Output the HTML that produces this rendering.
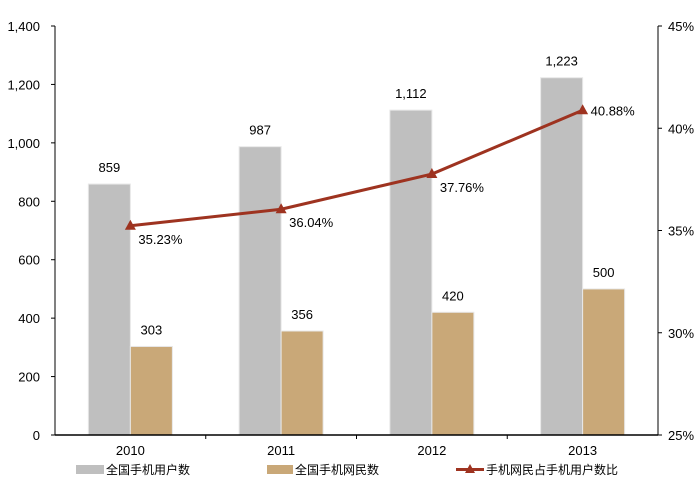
<!DOCTYPE html>
<html><head><meta charset="utf-8"><style>
body{margin:0;background:#fff;}
svg text{font-family:"Liberation Sans","Noto Sans CJK SC",sans-serif;fill:#000;}
</style></head><body>
<svg width="695" height="488" xmlns="http://www.w3.org/2000/svg">
<g id="bars"></g><g id="line"></g><g id="axes"></g><g id="legend">
<rect x="76" y="465" width="28" height="9" fill="#bfbfbf"/>
<text x="106" y="474" font-size="12">全国手机用户数</text>
<rect x="267" y="465" width="26" height="9" fill="#c9a878"/>
<text x="295" y="474" font-size="12">全国手机网民数</text>
<line x1="456" y1="469.5" x2="484" y2="469.5" stroke="#9e3320" stroke-width="3"/>
<path d="M470,464 L475,473 L465,473 Z" fill="#9e3320"/>
<text x="486" y="474" font-size="12">手机网民占手机用户数比</text>
</g></svg>
<script>
const categories=["2010","2011","2012","2013"];
const users=[859,987,1112,1223];
const netizens=[303,356,420,500];
const ratio=[35.23,36.04,37.76,40.88];
const leftTicks=[0,200,400,600,800,1000,1200,1400];
const rightTicks=[25,30,35,40,45];
const NS="http://www.w3.org/2000/svg";
const X0=55,X1=658,Y0=435,Y1=26;
const cw=(X1-X0)/categories.length;
const yL=v=>Y0-(v/1400)*(Y0-Y1);
const yR=v=>Y0-((v-25)/20)*(Y0-Y1);
const cx=i=>X0+cw*(i+0.5);
function mk(tag,attrs,parent,txt){const e=document.createElementNS(NS,tag);for(const k in attrs)e.setAttribute(k,attrs[k]);if(txt!==undefined)e.textContent=txt;document.getElementById(parent).appendChild(e);return e;}
const fmt=v=>v.toLocaleString("en-US");
categories.forEach((c,i)=>{
 let r=mk("rect",{x:cx(i)-42,y:yL(users[i]),width:42,height:Y0-yL(users[i]),fill:"#bfbfbf",stroke:"#e8e8e8","stroke-width":1},"bars");
 
 
 let t=mk("text",{x:cx(i)-21,y:yL(users[i])-12,"text-anchor":"middle","font-size":13},"bars",fmt(users[i]));
 
 
 let r2=mk("rect",{x:cx(i),y:yL(netizens[i]),width:42,height:Y0-yL(netizens[i]),fill:"#c9a878",stroke:"#e8e8e8","stroke-width":1},"bars");
 
 
 let t2=mk("text",{x:cx(i)+21,y:yL(netizens[i])-12,"text-anchor":"middle","font-size":13},"bars",fmt(netizens[i]));
 
 
 let xl=mk("text",{x:cx(i),y:455,"text-anchor":"middle","font-size":13},"axes",c);
 
 
});
let pts=ratio.map((v,i)=>cx(i)+","+yR(v)).join(" ");
let pl=mk("polyline",{points:pts,fill:"none",stroke:"#9e3320","stroke-width":3},"line");


ratio.forEach((v,i)=>{
 let x=cx(i),y=yR(v);
 let m=mk("path",{d:`M${x},${y-6} L${x+5.5},${y+4} L${x-5.5},${y+4} Z`,fill:"#9e3320"},"line");
 
 
 let t=mk("text",{x:x+8,y:y+18-(i==3?11:0),"font-size":13},"line",v.toFixed(2)+"%");
 if(i==3)t.setAttribute("y",y+5);
 
 
});
let a=mk("line",{x1:X0,y1:Y1,x2:X0,y2:Y0,stroke:"#000"},"axes");


let a2=mk("line",{x1:X1,y1:Y1,x2:X1,y2:Y0,stroke:"#000"},"axes");


let a3=mk("line",{x1:X0,y1:Y0,x2:X1,y2:Y0,stroke:"#000","stroke-width":1.5},"axes");


for(let i=1;i<categories.length;i++){let tk=mk("line",{x1:X0+cw*i,y1:Y0,x2:X0+cw*i,y2:Y0+4,stroke:"#000"},"axes");}
leftTicks.forEach(v=>{
 let y=yL(v);
 let tk=mk("line",{x1:X0-4,y1:y,x2:X0,y2:y,stroke:"#000"},"axes");
 
 
 let t=mk("text",{x:40,y:y+5,"text-anchor":"end","font-size":13},"axes",fmt(v));
 
 
});
rightTicks.forEach(v=>{
 let y=yR(v);
 let tk=mk("line",{x1:X1,y1:y,x2:X1+4,y2:y,stroke:"#000"},"axes");
 
 
 let t=mk("text",{x:668,y:y+5,"font-size":13},"axes",v+"%");
 
 
});
</script>
</body></html>
